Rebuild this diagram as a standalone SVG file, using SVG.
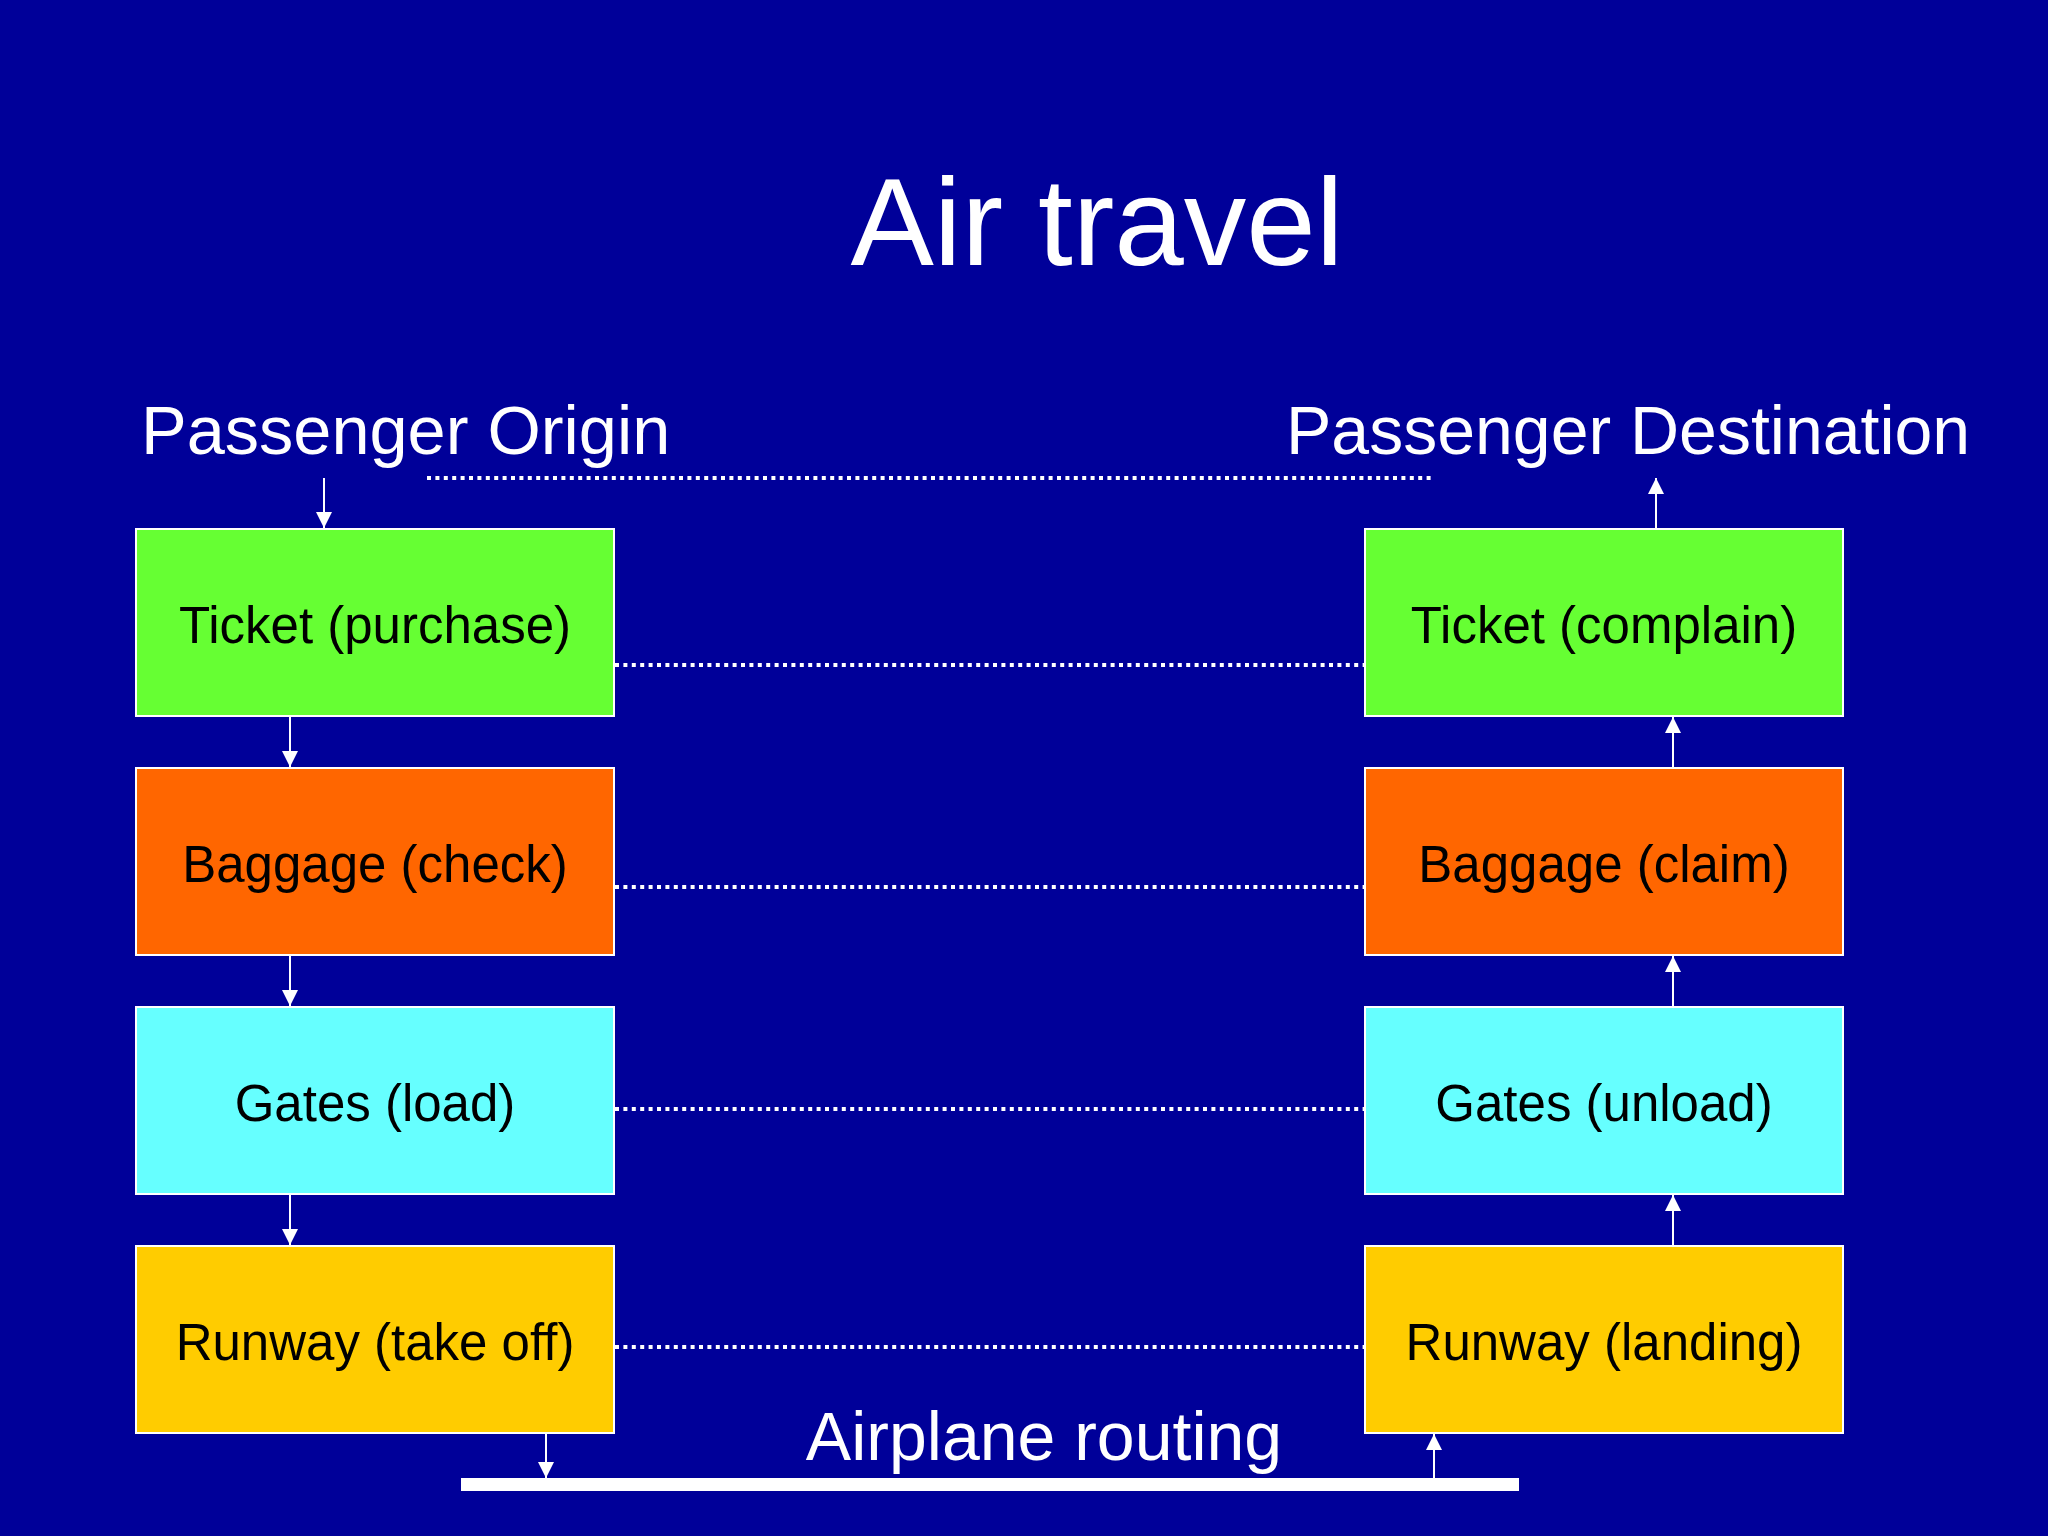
<svg xmlns="http://www.w3.org/2000/svg" width="2048" height="1536" viewBox="0 0 2048 1536">
<style>
.t{font-family:"Liberation Sans",Arial,sans-serif;fill:#fff}
.b{font-family:"Liberation Sans",Arial,sans-serif;fill:#000;font-size:51px;text-anchor:middle}
.box{stroke:#fff;stroke-width:2}
.dot{stroke:#fff;stroke-width:4;stroke-dasharray:4 4.4;fill:none}
.arr{stroke:#fff;stroke-width:2;fill:none;marker-end:url(#ah)}
</style>
<defs>
<marker id="ah" viewBox="0 0 16 16" refX="16" refY="8" markerWidth="16" markerHeight="16" markerUnits="userSpaceOnUse" orient="auto">
<path d="M0,0 L16,8 L0,16 Z" fill="#fff"/>
</marker>
</defs>
<rect width="2048" height="1536" fill="#000099"/>
<text class="t" x="1097" y="265" font-size="125" text-anchor="middle">Air travel</text>
<text class="t" x="141" y="454" font-size="68.5">Passenger Origin</text>
<text class="t" x="1286" y="454" font-size="68">Passenger Destination</text>
<text class="t" x="1044" y="1460" font-size="68" text-anchor="middle">Airplane routing</text>

<g id="connectors">
<line class="dot" x1="427" y1="478" x2="1433" y2="478"/>
<line class="dot" x1="615" y1="665" x2="1365" y2="665"/>
<line class="dot" x1="615" y1="887" x2="1365" y2="887"/>
<line class="dot" x1="615" y1="1109" x2="1365" y2="1109"/>
<line class="dot" x1="615" y1="1347" x2="1365" y2="1347"/>
<line class="arr" x1="324" y1="478" x2="324" y2="528"/>
<line class="arr" x1="290" y1="716" x2="290" y2="767"/>
<line class="arr" x1="290" y1="955" x2="290" y2="1006"/>
<line class="arr" x1="290" y1="1194" x2="290" y2="1245"/>
<line class="arr" x1="546" y1="1433" x2="546" y2="1478"/>
<line class="arr" x1="1434" y1="1478" x2="1434" y2="1434"/>
<line class="arr" x1="1673" y1="1246" x2="1673" y2="1195"/>
<line class="arr" x1="1673" y1="1007" x2="1673" y2="956"/>
<line class="arr" x1="1673" y1="768" x2="1673" y2="717"/>
<line class="arr" x1="1656" y1="529" x2="1656" y2="478"/>
<rect x="461" y="1478" width="1058" height="13" fill="#fff"/>
</g>

<g id="ticket-purchase"><rect class="box" x="136" y="529" width="478" height="187" fill="#66FF33"/><text class="b" x="375" y="643">Ticket (purchase)</text></g>
<g id="baggage-check"><rect class="box" x="136" y="768" width="478" height="187" fill="#FF6600"/><text class="b" x="375" y="882">Baggage (check)</text></g>
<g id="gates-load"><rect class="box" x="136" y="1007" width="478" height="187" fill="#66FFFF"/><text class="b" x="375" y="1121">Gates (load)</text></g>
<g id="runway-takeoff"><rect class="box" x="136" y="1246" width="478" height="187" fill="#FFCC00"/><text class="b" x="375" y="1360">Runway (take off)</text></g>

<g id="ticket-complain"><rect class="box" x="1365" y="529" width="478" height="187" fill="#66FF33"/><text class="b" x="1604" y="643">Ticket (complain)</text></g>
<g id="baggage-claim"><rect class="box" x="1365" y="768" width="478" height="187" fill="#FF6600"/><text class="b" x="1604" y="882">Baggage (claim)</text></g>
<g id="gates-unload"><rect class="box" x="1365" y="1007" width="478" height="187" fill="#66FFFF"/><text class="b" x="1604" y="1121">Gates (unload)</text></g>
<g id="runway-landing"><rect class="box" x="1365" y="1246" width="478" height="187" fill="#FFCC00"/><text class="b" x="1604" y="1360">Runway (landing)</text></g>
</svg>
